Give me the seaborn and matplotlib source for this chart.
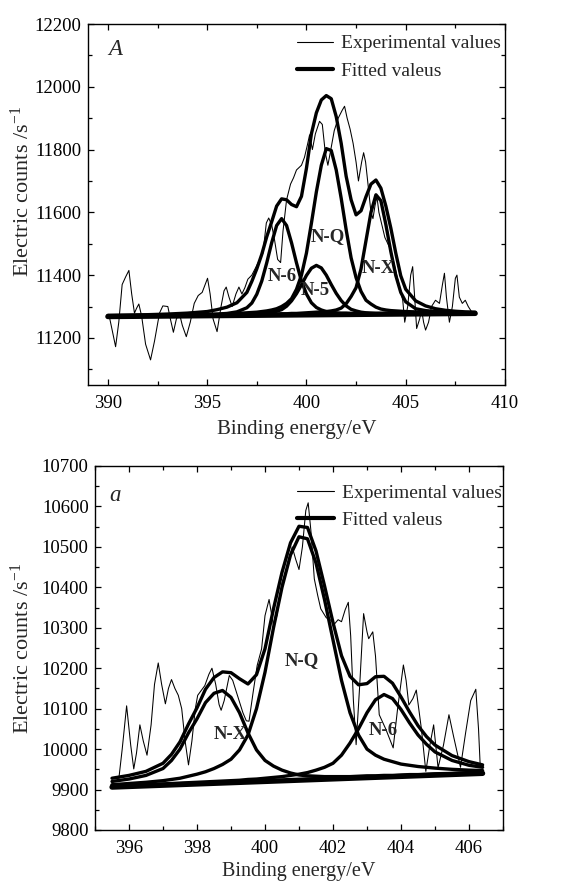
import matplotlib
matplotlib.use("Agg")
import matplotlib.pyplot as plt
from matplotlib.lines import Line2D
from matplotlib.ticker import MultipleLocator
import seaborn as sns

# ---------------- Panel A (top) ----------------
A_exp_E = [390.05, 390.2, 390.39, 390.55, 390.72, 390.9, 391.06, 391.2, 391.34, 391.45, 391.56, 391.7,
           391.9, 392.15, 392.35, 392.6, 392.77, 393.02, 393.15, 393.3, 393.45, 393.6, 393.75, 393.95,
           394.15, 394.35, 394.55, 394.75, 394.9, 395.02, 395.15, 395.3, 395.5, 395.7, 395.85, 395.96,
           396.1, 396.26, 396.45, 396.6, 396.75, 396.9, 397.05, 397.25, 397.47, 397.65, 397.81, 397.98,
           398.1, 398.25, 398.4, 398.55, 398.7, 398.82, 399.0, 399.2, 399.35, 399.5, 399.75, 399.9,
           400.05, 400.16, 400.3, 400.45, 400.66, 400.8, 400.95, 401.08, 401.2, 401.4, 401.6, 401.8,
           401.92, 402.05, 402.2, 402.35, 402.5, 402.62, 402.78, 402.88, 402.98, 403.1, 403.25, 403.35,
           403.45, 403.55, 403.65, 403.8, 403.95, 404.1, 404.25, 404.4, 404.55, 404.7, 404.85, 404.95,
           405.1, 405.25, 405.35, 405.45, 405.55, 405.7, 405.8, 405.9, 406.0, 406.15, 406.3, 406.5,
           406.7, 406.85, 406.95, 407.05, 407.2, 407.35, 407.5, 407.58, 407.7, 407.85, 408.0, 408.15, 408.3]
A_exp_counts = [11275, 11230, 11172, 11250, 11370, 11395, 11415, 11340, 11279, 11295, 11308, 11270,
                11180, 11130, 11190, 11279, 11302, 11300, 11260, 11218, 11260, 11279, 11240, 11204,
                11250, 11310, 11335, 11345, 11370, 11390, 11340, 11260, 11220, 11300, 11350, 11362,
                11330, 11300, 11340, 11362, 11340, 11360, 11387, 11400, 11427, 11450, 11470, 11566,
                11582, 11560, 11510, 11450, 11440, 11540, 11640, 11690, 11710, 11735, 11750, 11775,
                11815, 11847, 11800, 11850, 11890, 11880, 11790, 11750, 11790, 11860, 11900, 11925,
                11938, 11900, 11865, 11820, 11760, 11700, 11760, 11790, 11760, 11690, 11600, 11580,
                11620, 11650, 11600, 11560, 11520, 11500, 11480, 11440, 11400, 11360, 11320, 11250,
                11300, 11400, 11427, 11330, 11230, 11260, 11290, 11250, 11225, 11250, 11300, 11320,
                11310, 11370, 11406, 11330, 11250, 11300, 11390, 11400, 11330, 11310, 11320, 11300, 11285]

A_fit_E = [390, 391, 392, 393, 394, 395, 395.5, 396, 396.5, 397, 397.25, 397.5, 397.75, 398, 398.25,
           398.5, 398.75, 399, 399.25, 399.5, 399.75, 400, 400.25, 400.5, 400.75, 401, 401.25, 401.5,
           401.75, 402, 402.25, 402.5, 402.75, 403, 403.25, 403.5, 403.75, 404, 404.25, 404.5, 404.75,
           405, 405.5, 406, 406.5, 407, 407.5, 408, 408.5]
A_N6 = [11269, 11270, 11271, 11272, 11273, 11275, 11276, 11278, 11283, 11296, 11311, 11339, 11381, 11439,
        11503, 11558, 11580, 11558, 11503, 11439, 11381, 11340, 11312, 11297, 11289, 11284, 11282, 11280,
        11279, 11279, 11278, 11278, 11277, 11278, 11277, 11277, 11277, 11278, 11278, 11278, 11278,
        11278, 11278, 11278, 11278, 11278, 11279, 11279, 11279]
A_N5 = [11268, 11268, 11269, 11270, 11271, 11272, 11273, 11273, 11274, 11275, 11276, 11276, 11277, 11278,
        11281, 11285, 11290, 11301, 11318, 11341, 11369, 11399, 11422, 11431, 11423, 11400, 11370, 11342,
        11319, 11302, 11291, 11286, 11282, 11280, 11279, 11278, 11278, 11278, 11278, 11278, 11278,
        11278, 11278, 11278, 11278, 11278, 11278, 11278, 11278]
A_NQ = [11269, 11270, 11271, 11272, 11273, 11275, 11275, 11276, 11278, 11280, 11281, 11282, 11284, 11286,
        11289, 11293, 11300, 11310, 11325, 11355, 11400, 11470, 11565, 11665, 11750, 11803, 11797, 11735,
        11645, 11545, 11455, 11392, 11348, 11320, 11308, 11298, 11292, 11289, 11287, 11286, 11285,
        11284, 11283, 11282, 11281, 11281, 11280, 11280, 11280]
A_NX = [11268, 11268, 11269, 11270, 11270, 11271, 11272, 11272, 11273, 11274, 11274, 11274, 11275, 11275,
        11276, 11276, 11277, 11277, 11278, 11278, 11279, 11280, 11281, 11282, 11283, 11284, 11286, 11289,
        11295, 11309, 11332, 11360, 11420, 11510, 11600, 11656, 11637, 11561, 11475, 11399, 11345,
        11315, 11293, 11287, 11284, 11282, 11281, 11280, 11280]
A_envelope = [11272, 11273, 11274, 11276, 11279, 11284, 11290, 11298, 11312, 11345, 11380, 11420, 11466,
              11522, 11570, 11620, 11643, 11640, 11625, 11618, 11651, 11740, 11850, 11917, 11958, 11972,
              11962, 11905, 11820, 11715, 11640, 11592, 11605, 11650, 11690, 11703, 11677, 11620, 11550,
              11470, 11398, 11355, 11318, 11302, 11293, 11288, 11285, 11283, 11282]
A_base_E = [390, 408.5]
A_base_counts = [11268, 11278]

# ---------------- Panel a (bottom) ----------------
B_exp_E = [395.70, 395.80, 395.93, 396.05, 396.14, 396.22, 396.32, 396.42, 396.53, 396.65, 396.75, 396.86,
           396.96, 397.07, 397.16, 397.25, 397.35, 397.45, 397.55, 397.65, 397.75, 397.85, 397.95, 398.02,
           398.23, 398.35, 398.44, 398.55, 398.65, 398.71, 398.8, 398.95, 399.05, 399.2, 399.35, 399.45,
           399.53, 399.65, 399.77, 399.9, 400.0, 400.12, 400.25, 400.35, 400.5, 400.65, 400.8, 400.9,
           401.0, 401.1, 401.2, 401.27, 401.35, 401.45, 401.55, 401.64, 401.8, 401.95, 402.05, 402.15,
           402.25, 402.36, 402.45, 402.52, 402.6, 402.68, 402.78, 402.9, 403.0, 403.05, 403.17, 403.25,
           403.36, 403.55, 403.77, 403.9, 404.07, 404.15, 404.23, 404.35, 404.45, 404.6, 404.73, 404.85,
           404.96, 405.09, 405.25, 405.41, 405.55, 405.75, 405.9, 406.05, 406.2, 406.28, 406.33]
B_exp_counts = [9926, 10000, 10107, 10010, 9951, 9990, 10060, 10020, 9985, 10060, 10160, 10213,
                10160, 10112, 10150, 10172, 10150, 10133, 10100, 10020, 9961, 10020, 10100, 10133,
                10157, 10185, 10200, 10160, 10110, 10096, 10120, 10182, 10170, 10130, 10090, 10070,
                10069, 10140, 10207, 10248, 10330, 10370, 10305, 10330, 10410, 10450, 10500, 10470,
                10444, 10500, 10590, 10609, 10540, 10421, 10380, 10347, 10325, 10318, 10310, 10320,
                10315, 10345, 10363, 10280, 10120, 10011, 10150, 10335, 10290, 10273, 10290, 10230,
                10085, 10050, 10003, 10100, 10208, 10170, 10109, 10125, 10146, 10050, 9945, 10010,
                10060, 9954, 10010, 10085, 10030, 9955, 10040, 10120, 10148, 10050, 9958]

B_fit_E = [395.5, 396, 396.5, 397, 397.25, 397.5, 397.75, 398, 398.25, 398.5, 398.75, 399, 399.25, 399.5,
           399.75, 400, 400.25, 400.5, 400.75, 401, 401.25, 401.5, 401.75, 402, 402.25, 402.5, 402.75,
           403, 403.25, 403.5, 403.75, 404, 404.25, 404.5, 404.75, 405, 405.5, 406, 406.4]
B_NX = [9920, 9926, 9935, 9952, 9972, 10000, 10040, 10075, 10115, 10138, 10145, 10128, 10090, 10040,
        9998, 9972, 9958, 9948, 9941, 9936, 9934, 9933, 9932, 9932, 9932, 9932, 9933, 9934, 9934, 9935,
        9935, 9936, 9937, 9937, 9938, 9939, 9940, 9942, 9943]
B_NQ = [9912, 9915, 9918, 9922, 9925, 9928, 9933, 9938, 9944, 9952, 9962, 9975, 9998, 10035, 10100,
        10190, 10300, 10400, 10480, 10525, 10520, 10460, 10370, 10270, 10170, 10090, 10035, 10000, 9985,
        9975, 9969, 9963, 9960, 9957, 9955, 9953, 9950, 9948, 9947]
B_N6 = [9910, 9911, 9912, 9914, 9915, 9916, 9917, 9918, 9919, 9920, 9921, 9922, 9923, 9925, 9926, 9928,
        9930, 9932, 9935, 9938, 9942, 9948, 9955, 9965, 9985, 10015, 10050, 10090, 10122, 10135, 10125,
        10098, 10065, 10035, 10012, 9993, 9972, 9960, 9955]
B_envelope = [9928, 9935, 9945, 9965, 9987, 10018, 10062, 10102, 10148, 10177, 10191, 10189, 10174, 10161,
              10184, 10248, 10347, 10437, 10510, 10551, 10548, 10490, 10404, 10313, 10231, 10180, 10159,
              10162, 10179, 10180, 10163, 10129, 10092, 10058, 10031, 10010, 9984, 9969, 9961]
B_base_E = [395.5, 406.4]
B_base_counts = [9906, 9940]

legend_labels = ["Experimental values", "Fitted valeus"]
ylabel_text = "Electric counts /s$^{-1}$"
xlabel_text = "Binding energy/eV"

# ---------------- style ----------------
sns.set_theme(style="ticks")
plt.rcParams["font.family"] = ["Liberation Serif", "DejaVu Serif"]
plt.rcParams["mathtext.fontset"] = "custom"
plt.rcParams["mathtext.rm"] = "Liberation Serif"
plt.rcParams["mathtext.it"] = "Liberation Serif:italic"
plt.rcParams["mathtext.bf"] = "Liberation Serif:bold"

fig = plt.figure(figsize=(5.65, 8.83), dpi=100)
W, H = 565.0, 883.0
axA = fig.add_axes([88 / W, 1 - 385 / H, 417 / W, 361 / H])
axB = fig.add_axes([95 / W, 1 - 830 / H, 408 / W, 364 / H])

FIT_LW = 2.4
EXP_LW = 0.75
BASE_LW = 3.8


def draw_panel(ax, exp_E, exp_c, fit_E, comps, envelope, base_E, base_c):
    sns.lineplot(x=base_E, y=base_c, ax=ax, color="black", linewidth=BASE_LW,
                 estimator=None, sort=False, legend=False)
    for comp in comps:
        sns.lineplot(x=fit_E, y=comp, ax=ax, color="black", linewidth=FIT_LW,
                     estimator=None, sort=False, legend=False)
    sns.lineplot(x=fit_E, y=envelope, ax=ax, color="black", linewidth=FIT_LW,
                 estimator=None, sort=False, legend=False)
    sns.lineplot(x=exp_E, y=exp_c, ax=ax, color="black", linewidth=EXP_LW,
                 estimator=None, sort=False, legend=False)


draw_panel(axA, A_exp_E, A_exp_counts, A_fit_E, [A_N6, A_N5, A_NQ, A_NX], A_envelope,
           A_base_E, A_base_counts)
draw_panel(axB, B_exp_E, B_exp_counts, B_fit_E, [B_NX, B_NQ, B_N6], B_envelope,
           B_base_E, B_base_counts)

# axes limits and ticks
axA.set_xlim(389, 410)
axA.set_ylim(11050, 12200)
axA.xaxis.set_major_locator(MultipleLocator(5))
axA.xaxis.set_minor_locator(MultipleLocator(2.5))
axA.yaxis.set_major_locator(MultipleLocator(200))
axA.yaxis.set_minor_locator(MultipleLocator(100))

axB.set_xlim(395, 407)
axB.set_ylim(9800, 10700)
axB.xaxis.set_major_locator(MultipleLocator(2))
axB.xaxis.set_minor_locator(MultipleLocator(1))
axB.yaxis.set_major_locator(MultipleLocator(100))
axB.yaxis.set_minor_locator(MultipleLocator(50))

for ax in (axA, axB):
    ax.set_facecolor("white")
    for s in ax.spines.values():
        s.set_visible(True)
        s.set_color("black")
        s.set_linewidth(1.0)
    ax.tick_params(which="both", direction="in", top=True, right=True, colors="black",
                   labelsize=13.5, width=0.9)
    ax.tick_params(which="major", length=4.5)
    ax.tick_params(which="minor", length=2.6)
    ax.tick_params(axis="x", which="major", pad=7)
    ax.tick_params(axis="y", which="major", pad=4.5)
    ax.set_ylabel(ylabel_text, fontsize=16)
    ax.grid(False)

axA.set_xlabel(xlabel_text, fontsize=15)
axB.set_xlabel(xlabel_text, fontsize=14.5)
axA.xaxis.set_label_coords(0.5, -0.098)
axB.xaxis.set_label_coords(0.5, -0.088)
axA.yaxis.set_label_coords(-0.13, 0.535)
axB.yaxis.set_label_coords(-0.15, 0.5)

# panel letters
axA.text(0.065, 0.93, "A", transform=axA.transAxes, fontsize=16.5, style="italic",
         ha="center", va="center")
axB.text(0.05, 0.92, "a", transform=axB.transAxes, fontsize=16.5, style="italic",
         ha="center", va="center")

# peak labels
lab_kw = dict(fontsize=13.5, fontweight="bold", ha="center", va="center")
axA.text(398.77, 11395, "N-6", **lab_kw)
axA.text(400.45, 11350, "N-5", **lab_kw)
axA.text(401.07, 11522, "N-Q", **lab_kw)
axA.text(403.6, 11422, "N-X", **lab_kw)
axB.text(401.08, 10218, "N-Q", **lab_kw)
axB.text(398.97, 10037, "N-X", **lab_kw)
axB.text(403.48, 10046, "N-6", **lab_kw)

# legends
handles = [Line2D([], [], color="black", linewidth=0.8),
           Line2D([], [], color="black", linewidth=3.0)]
for ax, anchor in ((axA, (0.50, 0.97)), (axB, (0.495, 0.95))):
    ax.legend(handles, legend_labels, loc="upper left", bbox_to_anchor=anchor,
              frameon=False, fontsize=14, handlelength=1.9, handletextpad=0.4,
              labelspacing=0.5, borderpad=0.0, borderaxespad=0.0)

fig.savefig("out.png", dpi=100, facecolor="white")
